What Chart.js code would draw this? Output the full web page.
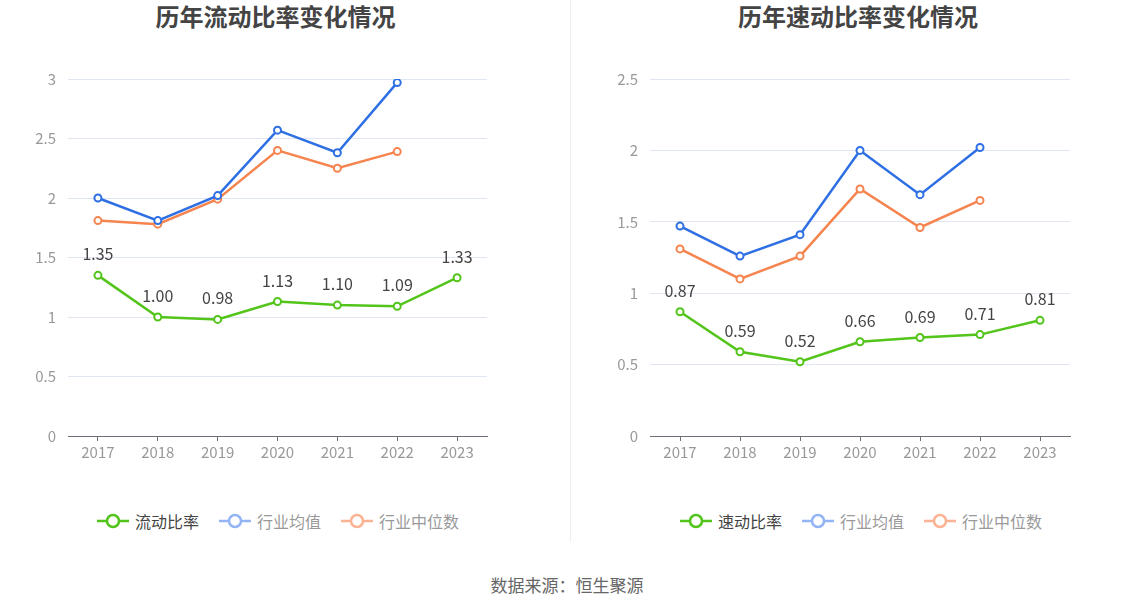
<!DOCTYPE html>
<html>
<head>
<meta charset="utf-8">
<script src="https://cdn.jsdelivr.net/npm/chart.js@4/dist/chart.umd.min.js"></script>
<style>
  body { margin: 0; background: #fff; font-family: "Noto Sans CJK SC", "Noto Sans", sans-serif; }
  #wrap { position: relative; width: 1134px; height: 612px; overflow: hidden; }
  .title { position: absolute; top: -2px; font-size: 24px; font-weight: bold; color: #444; text-align: center; }
  .box { position: absolute; top: 58px; height: 412px; }
  .divider { position: absolute; left: 570px; top: 0; width: 1px; height: 542px; background: #eee; }
  .legend { position: absolute; top: 509px; display: flex; gap: 20px; font-size: 16px; }
  .legend .item { display: flex; align-items: center; gap: 6px; color: #999; }
  .legend .item.main { color: #444; }
  .source { position: absolute; top: 572px; left: 0; width: 1134px; text-align: center; font-size: 17px; color: #666; }
</style>
</head>
<body>
<div id="wrap">
  <div class="title" style="left:0;width:551px;">历年流动比率变化情况</div>
  <div class="title" style="left:582px;width:552px;">历年速动比率变化情况</div>
  <div class="box" style="left:0;width:567px;"><canvas id="chart-left"></canvas></div>
  <div class="box" style="left:582px;width:552px;"><canvas id="chart-right"></canvas></div>
  <div class="divider"></div>
  <div class="legend" id="legend-left" style="left:97px;"></div>
  <div class="legend" id="legend-right" style="left:680px;"></div>
  <div class="source">数据来源：恒生聚源</div>
</div>
<script>
const years = ['2017', '2018', '2019', '2020', '2021', '2022', '2023'];

const liudong = [1.35, 1.00, 0.98, 1.13, 1.10, 1.09, 1.33];
const liudongMean = [2.00, 1.81, 2.02, 2.57, 2.38, 2.97, null];
const liudongMedian = [1.81, 1.78, 1.99, 2.40, 2.25, 2.39, null];

const sudong = [0.87, 0.59, 0.52, 0.66, 0.69, 0.71, 0.81];
const sudongMean = [1.47, 1.26, 1.41, 2.00, 1.69, 2.02, null];
const sudongMedian = [1.31, 1.10, 1.26, 1.73, 1.46, 1.65, null];

const GREEN = '#52c41a', BLUE = '#2f6fe4', ORANGE = '#f5844f';
const FONT = '"Noto Sans CJK SC", "Noto Sans", sans-serif';

// value labels above the first (main) series
const valueLabels = {
  id: 'valueLabels',
  afterDatasetsDraw(chart) {
    const ctx = chart.ctx;
    const meta = chart.getDatasetMeta(0);
    const data = chart.data.datasets[0].data;
    ctx.save();
    ctx.font = '16px ' + FONT;
    ctx.fillStyle = '#444';
    ctx.textAlign = 'center';
    ctx.textBaseline = 'middle';
    meta.data.forEach((pt, i) => {
      ctx.fillText(data[i].toFixed(2), pt.x, pt.y - 21);
    });
    ctx.restore();
  }
};

function lineSet(label, data, color) {
  return {
    label, data,
    borderColor: color, backgroundColor: '#fff',
    borderWidth: 2.5, pointRadius: 3.5, pointBorderWidth: 2,
    pointBackgroundColor: '#fff', pointBorderColor: color,
    tension: 0, spanGaps: false
  };
}

function makeChart(canvasId, names, main, mean, median, yMax, padRight) {
  return new Chart(document.getElementById(canvasId), {
    type: 'line',
    data: {
      labels: years,
      datasets: [
        lineSet(names[0], main, GREEN),
        lineSet(names[1], mean, BLUE),
        lineSet(names[2], median, ORANGE)
      ]
    },
    options: {
      responsive: true, maintainAspectRatio: false, animation: false,
      layout: { padding: { left: 0, right: padRight, top: 20, bottom: 0 } },
      plugins: { legend: { display: false }, tooltip: { enabled: false } },
      scales: {
        x: {
          offset: true,
          grid: { display: true, drawOnChartArea: false, drawTicks: true, tickLength: 5, color: '#6e7079' },
          border: { color: '#6e7079', width: 1 },
          ticks: { color: '#999', font: { family: FONT, size: 15 }, padding: 2, maxRotation: 0 },
          afterFit: s => { s.height = 34; }
        },
        y: {
          min: 0, max: yMax,
          grid: { color: '#e0e6f1', drawTicks: false },
          border: { display: false },
          ticks: { stepSize: 0.5, color: '#999', font: { family: FONT, size: 15 }, padding: 12, callback: v => String(v) },
          afterFit: s => { s.width = 68; }
        }
      }
    },
    plugins: [valueLabels]
  });
}

makeChart('chart-left', ['流动比率', '行业均值', '行业中位数'], liudong, liudongMean, liudongMedian, 3, 80);
makeChart('chart-right', ['速动比率', '行业均值', '行业中位数'], sudong, sudongMean, sudongMedian, 2.5, 64);

function renderLegend(containerId, names) {
  const colors = [GREEN, '#93b4f5', '#fbb393'];
  const el = document.getElementById(containerId);
  el.innerHTML = names.map((n, i) => `
    <div class="item${i === 0 ? ' main' : ''}">
      <svg width="32" height="16"><line x1="0" y1="8" x2="32" y2="8" stroke="${colors[i]}" stroke-width="2.5"/>
      <circle cx="16" cy="8" r="6" fill="#fff" stroke="${colors[i]}" stroke-width="2.5"/></svg>
      <span>${n}</span>
    </div>`).join('');
}
renderLegend('legend-left', ['流动比率', '行业均值', '行业中位数']);
renderLegend('legend-right', ['速动比率', '行业均值', '行业中位数']);
</script>
</body>
</html>
